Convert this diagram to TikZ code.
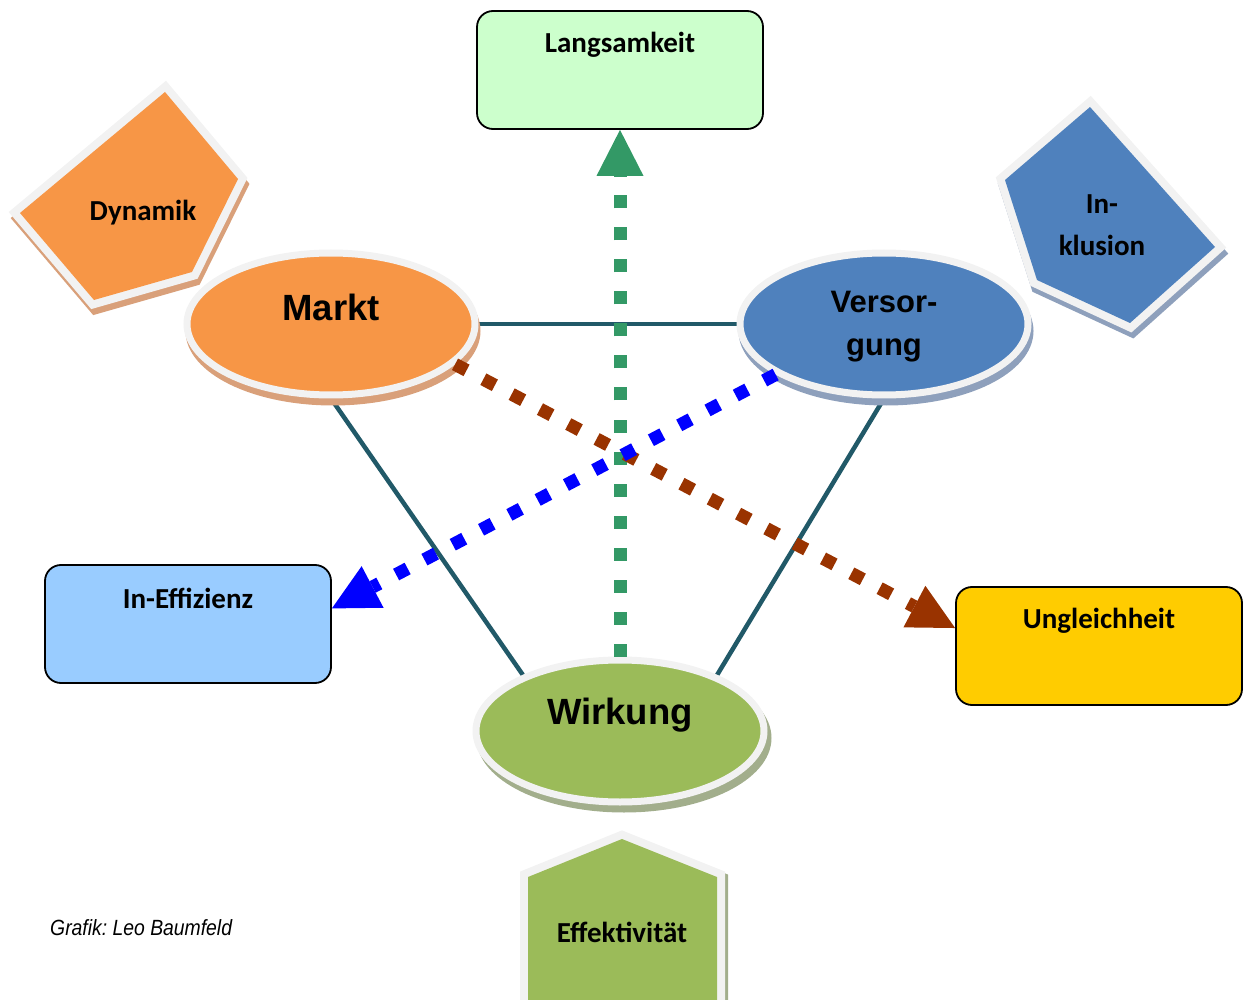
\documentclass[tikz,border=0pt]{standalone}
\usepackage{fontspec}
\usepackage{tikz}
\usetikzlibrary{calc}
\usetikzlibrary{positioning}
\usetikzlibrary{shapes.geometric}
\usetikzlibrary{shadows}
\usetikzlibrary{arrows.meta}
\usetikzlibrary{backgrounds}
\newfontfamily\calibri{Carlito}
\newfontfamily\arial{Liberation Sans}
\newfontfamily\narrow{Liberation Sans}[FakeStretch=0.88]
\definecolor{ringgray}{HTML}{F2F2F2}
\definecolor{orangefill}{HTML}{F79646}
\definecolor{orangeshade}{HTML}{D9A07A}
\definecolor{bluefill}{HTML}{4F81BD}
\definecolor{blueshade}{HTML}{8EA0BC}
\definecolor{greenfill}{HTML}{9BBB59}
\definecolor{greenshade}{HTML}{A2AE8C}
\definecolor{slowgreen}{HTML}{CCFFCC}
\definecolor{ineffblue}{HTML}{99CCFF}
\definecolor{unequalgold}{HTML}{FFCC00}
\definecolor{linkteal}{HTML}{215968}
\definecolor{seagreen}{HTML}{339966}
\definecolor{pureblue}{HTML}{0000FF}
\definecolor{arrowbrown}{HTML}{993300}

\begin{document}
\begin{tikzpicture}[x=1pt,y=-1pt,
  ring/.style={draw=ringgray,line width=7pt},
  pole/.style={ellipse,ring,minimum width=288pt,minimum height=142pt,inner sep=0pt},
  polename/.style={font=\arial\bfseries\fontsize{36.5}{44}\selectfont},
  box/.style={draw=black,line width=1.8pt,rounded corners=16pt,minimum width=286pt,minimum height=118pt},
  tag/.style={font=\calibri\bfseries\fontsize{29}{42}\selectfont,align=center},
  link/.style={draw=linkteal,line width=4.5pt},
  flow/.style={line width=13pt,dash pattern=on 13pt off 19pt,-{Triangle[width=47pt,length=46pt,line width=0pt 0]}},
  patch/.style={ringgray,line width=16pt,line join=miter}]

\clip (0,0) rectangle (1243,1000);

\draw[patch,general shadow={draw=orangeshade,fill=orangeshade,line width=16pt,shadow xshift=2pt,shadow yshift=-6pt},postaction={fill=orangefill}] (165,92) -- (238,179) -- (192,272) -- (94,300) -- (20,213) -- cycle;
\node[tag] (dyn) at (143,213) {Dynamik};

\draw[patch,general shadow={draw=blueshade,fill=blueshade,line width=16pt,shadow xshift=2pt,shadow yshift=-6pt},postaction={fill=bluefill}] (1090,107) -- (1215,247) -- (1130,323) -- (1037,280) -- (1005,180) -- cycle;
\node[tag] (incl) at (1102,225) {In-\\klusion};

\draw[patch,general shadow={draw=greenshade,fill=greenshade,line width=16pt,shadow xshift=3pt,shadow yshift=-3pt},postaction={fill=greenfill}] (622,839) -- (717,877) -- (717,1010) -- (528,1010) -- (528,877) -- cycle;
\node[tag] (eff) at (622,932) {Effektivität};

\node[box,fill=slowgreen] (slow) at (620,70) {};
\node[tag,below=35pt of slow.north,anchor=center] {Langsamkeit};
\node[box,fill=ineffblue] (ineff) at (188,624) {};
\node[tag,below=34pt of ineff.north,anchor=center] {In-Effizienz};
\node[box,fill=unequalgold] (unequal) at (1099,646) {};
\node[tag,below=35pt of unequal.north,anchor=center] {Ungleichheit};

\node[pole,fill=orangefill,general shadow={fill=orangeshade,draw=orangeshade,line width=7pt,shadow xshift=2pt,shadow yshift=-7pt}] (markt) at (331,324) {};
\node[pole,fill=bluefill,general shadow={fill=blueshade,draw=blueshade,line width=7pt,shadow xshift=2pt,shadow yshift=-7pt}] (vers) at (884,324) {};
\node[pole,fill=greenfill,general shadow={fill=greenshade,draw=greenshade,line width=7pt,shadow xshift=4pt,shadow yshift=-7pt}] (wirk) at (620,731) {};

\node[polename,above=17pt of markt.center,anchor=center] {Markt};
\node[align=center,font=\arial\bfseries\fontsize{31}{43}\selectfont,below=3pt of vers.center,anchor=center] {Versor-\\gung};
\node[polename,above=16pt of wirk.center,anchor=center] {Wirkung};

\begin{scope}[on background layer]
\draw[link] (markt.east) -- (vers.west);
\draw[link] (markt.south) -- (wirk.150);
\draw[link] (vers.south) -- (wirk.30);
\end{scope}

\coordinate (ineff tip) at ($(ineff.north east)!0.37!(ineff.south east)$);
\coordinate (unequal tip) at ($(unequal.north west)!0.35!(unequal.south west)$);
\draw[flow,seagreen] (wirk.north) -- (slow.south);
\draw[flow,arrowbrown] (markt.342) -- (unequal tip);
\draw[flow,pureblue] (vers.205) -- (ineff tip);

\node[anchor=west,inner sep=0pt,font=\narrow\itshape\fontsize{22}{26}\selectfont\frenchspacing] (credit) at (50,928) {Grafik: Leo Baumfeld};
\end{tikzpicture}
\end{document}
